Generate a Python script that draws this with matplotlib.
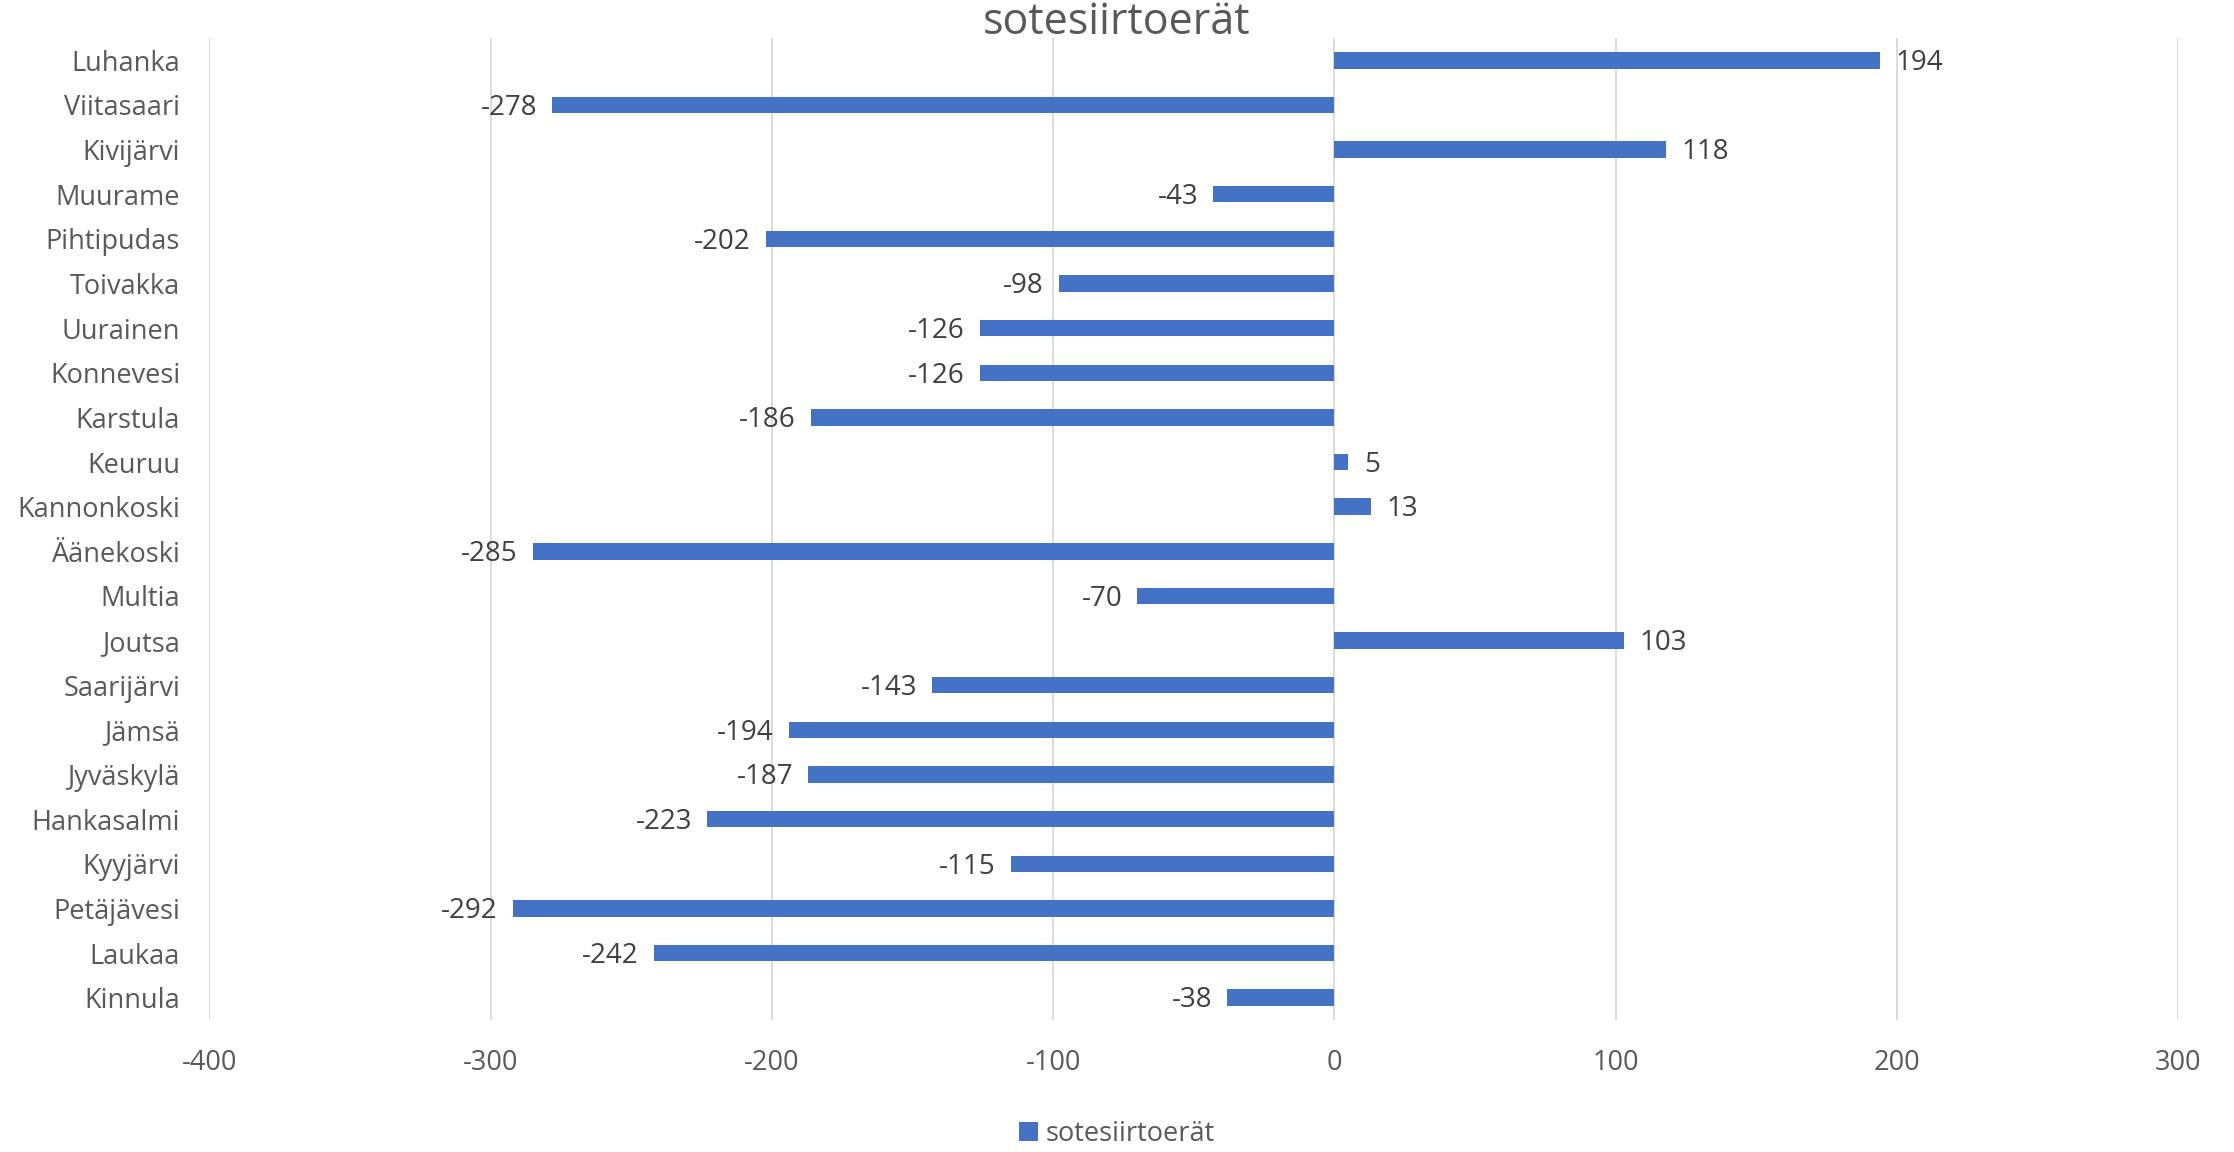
import matplotlib.pyplot as plt

# Data
kunnat = ['Luhanka', 'Viitasaari', 'Kivijärvi', 'Muurame', 'Pihtipudas', 'Toivakka',
          'Uurainen', 'Konnevesi', 'Karstula', 'Keuruu', 'Kannonkoski', 'Äänekoski',
          'Multia', 'Joutsa', 'Saarijärvi', 'Jämsä', 'Jyväskylä', 'Hankasalmi',
          'Kyyjärvi', 'Petäjävesi', 'Laukaa', 'Kinnula']
arvot = [194, -278, 118, -43, -202, -98, -126, -126, -186, 5, 13, -285,
         -70, 103, -143, -194, -187, -223, -115, -292, -242, -38]
x_ticks = [-400, -300, -200, -100, 0, 100, 200, 300]
sarja = 'sotesiirtoerät'

plt.rcParams['font.family'] = ['Open Sans', 'DejaVu Sans']
teksti = '#595959'
sininen = '#4472C4'

fig = plt.figure(figsize=(22.34, 11.52), dpi=100)
ax = fig.add_axes([0.0937, 0.1146, 0.8813, 0.8524])

y = list(range(len(kunnat)))
ax.barh(y, arvot, height=0.37, color=sininen, label=sarja, zorder=3)

# data labels
for yy, v in zip(y, arvot):
    if v >= 0:
        ax.annotate(str(v), (v, yy), xytext=(11, -2), textcoords='offset points',
                    ha='left', va='center', fontsize=20, color='#404040')
    else:
        ax.annotate(str(v), (v, yy), xytext=(-11, -2), textcoords='offset points',
                    ha='right', va='center', fontsize=20, color='#404040')

ax.set_xlim(-400, 300)
ax.set_ylim(len(kunnat) - 0.5, -0.5)
ax.set_xticks(x_ticks)
ax.set_xticklabels([str(t) for t in x_ticks])
ax.set_yticks(y)
ax.set_yticklabels(kunnat)
ax.tick_params(axis='both', length=0, labelsize=19.5, colors=teksti)
ax.tick_params(axis='y', pad=21)
ax.tick_params(axis='x', pad=21)
ax.grid(axis='x', color='#D9D9D9', linewidth=1.3, zorder=0)
for s in ax.spines.values():
    s.set_visible(False)

fig.suptitle(sarja, x=0.5, y=1.0, va='top', fontsize=31, color=teksti)
fig.legend(loc='lower center', bbox_to_anchor=(0.5, -0.018), frameon=False,
           fontsize=19.5, labelcolor=teksti, handlelength=0.7, handleheight=0.7,
           handletextpad=0.3)

fig.savefig('out.png', dpi=100)
